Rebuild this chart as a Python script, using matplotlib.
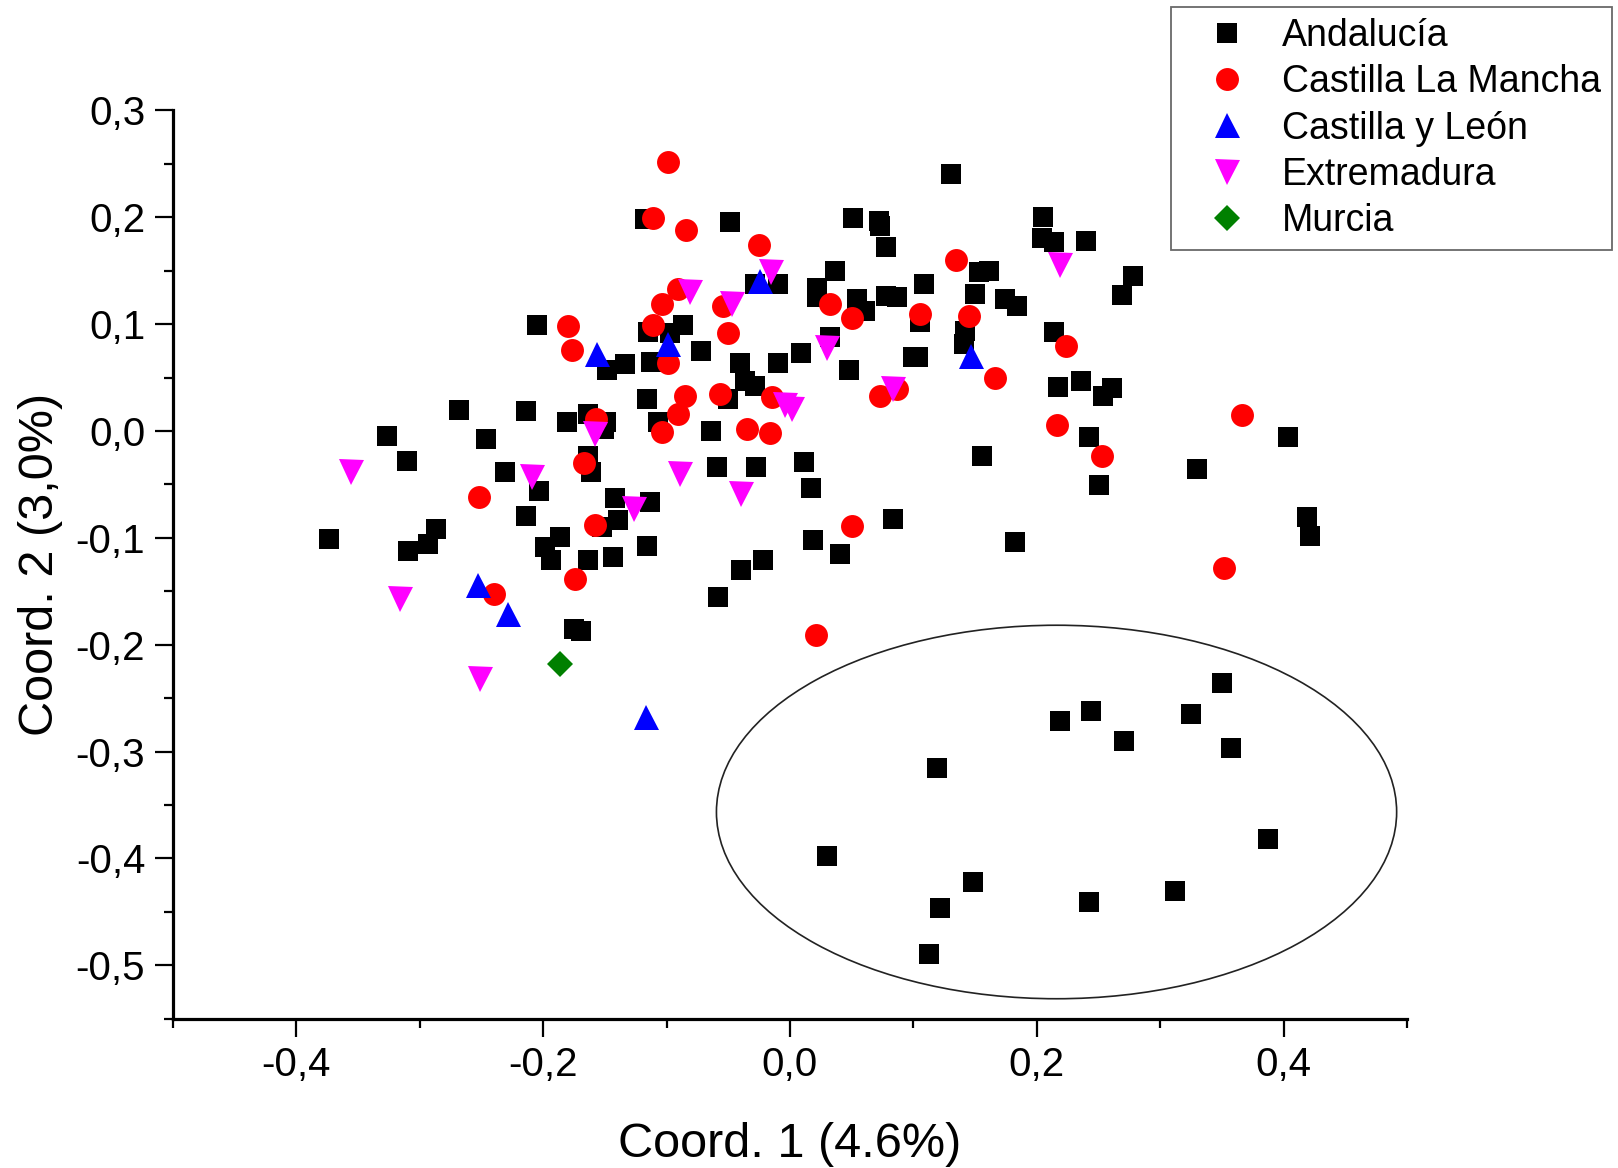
import matplotlib
matplotlib.use("Agg")
import matplotlib.pyplot as plt
from matplotlib.patches import Ellipse
from matplotlib.ticker import MultipleLocator, FuncFormatter

plt.rcParams['font.family'] = ['Liberation Sans', 'DejaVu Sans']

# ---------------- data ----------------
andalucia_x = [-0.1177, -0.205, -0.148, -0.134, -0.1147, -0.097, -0.087, -0.113, -0.072, -0.1155,
               -0.107, -0.268, -0.2136, -0.3266, -0.2466, -0.181, -0.164, -0.149, -0.151,
               -0.049, 0.051, 0.072, 0.073, 0.0775, 0.1305, 0.2053, 0.204, 0.214, 0.2397,
               0.153, 0.161, 0.150, 0.174, 0.184, 0.142, 0.141, 0.214, 0.2175, 0.236, 0.254,
               0.261, 0.242, 0.1086, 0.105, 0.087, 0.078, 0.0364, 0.0216, 0.0216, 0.054,
               0.061, 0.0324, 0.0478, 0.0999, 0.1037, -0.0285, -0.0095, -0.0406, -0.0366, -0.0285,
               -0.050, -0.0095, 0.0086, -0.064,
               -0.3104, -0.2312, -0.2036, -0.2136, -0.3736, -0.2865, -0.2933, -0.3096, -0.1866, -0.1987,
               -0.1933, -0.1636, -0.1438, -0.1158, -0.152, -0.139, -0.142, -0.1136, -0.161, -0.1636,
               -0.175, -0.1695,
               -0.0595, -0.0276, 0.0113, 0.0167, 0.0832, 0.0183, 0.0405, -0.0219, -0.0398, -0.0582,
               0.1553, 0.1826, 0.25,
               0.4034, 0.3302, 0.4189, 0.421, 0.2783, 0.2689,
               0.3497, 0.2436, 0.2187, 0.3251, 0.2708, 0.3577, 0.1192, 0.3874, 0.0301, 0.1485,
               0.3117, 0.2419, 0.1217, 0.1123]
andalucia_y = [0.198, 0.0995, 0.057, 0.063, 0.093, 0.092, 0.099, 0.065, 0.075, 0.030,
               0.0087, 0.0197, 0.0184, -0.005, -0.0075, 0.008, 0.016, 0.008, 0.002,
               0.196, 0.199, 0.197, 0.192, 0.1726, 0.241, 0.200, 0.181, 0.1766, 0.178,
               0.1485, 0.1494, 0.128, 0.124, 0.117, 0.094, 0.081, 0.093, 0.0408, 0.047, 0.033,
               0.040, -0.006, 0.1376, 0.102, 0.125, 0.1267, 0.150, 0.134, 0.125, 0.1236,
               0.1126, 0.0876, 0.057, 0.069, 0.069, 0.1375, 0.1375, 0.064, 0.047, 0.0424,
               0.030, 0.064, 0.073, 0.0003,
               -0.0278, -0.0381, -0.0559, -0.080, -0.1013, -0.0918, -0.1058, -0.1127, -0.0996, -0.109,
               -0.121, -0.1205, -0.1176, -0.1074, -0.0896, -0.0834, -0.0627, -0.0668, -0.0388, -0.023,
               -0.185, -0.1876,
               -0.0334, -0.034, -0.0287, -0.0534, -0.0821, -0.102, -0.1154, -0.1205, -0.130, -0.1558,
               -0.0231, -0.104, -0.051,
               -0.006, -0.0357, -0.0803, -0.098, 0.1454, 0.1273,
               -0.236, -0.262, -0.2715, -0.2653, -0.2905, -0.2964, -0.3154, -0.3816, -0.398, -0.4219,
               -0.4308, -0.4408, -0.4465, -0.4897]

clm_x = [-0.099, -0.111, -0.084, -0.025, -0.091, -0.104, -0.054, -0.050, -0.1795, -0.1766,
         -0.111, -0.099, -0.085, -0.091, -0.1036, -0.1576, -0.0568, -0.0149, -0.035, -0.0163,
         -0.1668, -0.252, -0.158, -0.1743, -0.2398, 0.0324, 0.0505, 0.105, 0.1345, 0.145,
         0.166, 0.073, 0.087, 0.2237, 0.216, 0.2526, 0.3662, 0.3518, 0.050, 0.021]
clm_y = [0.252, 0.199, 0.188, 0.174, 0.133, 0.119, 0.117, 0.0914, 0.098, 0.076,
         0.099, 0.064, 0.033, 0.016, -0.001, 0.011, 0.0346, 0.0315, 0.0017, -0.0022,
         -0.030, -0.0622, -0.0877, -0.1386, -0.1526, 0.1187, 0.1054, 0.1095, 0.160, 0.108,
         0.0496, 0.033, 0.039, 0.0792, 0.006, -0.023, 0.0151, -0.1285, -0.0887, -0.191]

cyl_x = [-0.0244, -0.099, -0.156, 0.1464, -0.2528, -0.2285, -0.1168]
cyl_y = [0.1407, 0.081, 0.072, 0.0705, -0.144, -0.171, -0.268]

ext_x = [-0.081, -0.0157, -0.047, 0.219, 0.0297, 0.0837, -0.004, 0.002, -0.158, -0.3554,
         -0.209, -0.0892, -0.126, -0.0398, -0.3163, -0.2514]
ext_y = [0.130, 0.1484, 0.1187, 0.155, 0.078, 0.0393, 0.024, 0.021, -0.003, -0.0388,
         -0.0434, -0.0405, -0.073, -0.059, -0.157, -0.232]

mur_x = [-0.186]
mur_y = [-0.218]

labels = ["Andalucía", "Castilla La Mancha", "Castilla y León", "Extremadura", "Murcia"]
colors = ["#000000", "#FF0000", "#0000FF", "#FF00FF", "#008000"]

ellipse_center = (0.216, -0.3566)
ellipse_width = 0.5512
ellipse_height = 0.3496

x_label = "Coord. 1 (4.6%)"
y_label = "Coord. 2 (3,0%)"

# ---------------- plot ----------------
fig = plt.figure(figsize=(16.18, 11.68), dpi=100)
ax = fig.add_axes([0.1069, 0.1279, 0.7627, 0.7775])

series = [(andalucia_x, andalucia_y, 's', 14.5),
          (clm_x, clm_y, 'o', 16.5),
          (cyl_x, cyl_y, '^', 18),
          (ext_x, ext_y, 'v', 18),
          (mur_x, mur_y, 'D', 13)]
for (xs, ys, m, ms), lab, col in zip(series, labels, colors):
    ax.plot(xs, ys, linestyle='none', marker=m, markersize=ms, color=col,
            markeredgewidth=0, label=lab)

ax.add_patch(Ellipse(ellipse_center, ellipse_width, ellipse_height,
                     fill=False, edgecolor='#222222', linewidth=1.2))

ax.set_xlim(-0.5, 0.5)
ax.set_ylim(-0.55, 0.3)

for s in ['top', 'right']:
    ax.spines[s].set_visible(False)
for s in ['left', 'bottom']:
    ax.spines[s].set_linewidth(2.3)

ax.xaxis.set_major_locator(MultipleLocator(0.2))
ax.xaxis.set_minor_locator(MultipleLocator(0.1))
ax.yaxis.set_major_locator(MultipleLocator(0.1))
ax.yaxis.set_minor_locator(MultipleLocator(0.05))

fmt = FuncFormatter(lambda v, p: ("%.1f" % (round(v, 2) + 0.0)).replace('.', ','))
ax.xaxis.set_major_formatter(fmt)
ax.yaxis.set_major_formatter(fmt)

ax.tick_params(which='major', direction='out', length=13, width=1.6, labelsize=29, pad=7)
ax.tick_params(which='minor', direction='out', length=6.5, width=1.6)

ax.set_xlabel(x_label, fontsize=35, labelpad=27)
ax.set_ylabel(y_label, fontsize=35, labelpad=9)

leg = ax.legend(loc='upper right', bbox_to_anchor=(0.9963, 0.994),
                bbox_transform=fig.transFigure, borderaxespad=0,
                fontsize=27, frameon=True, fancybox=False, labelspacing=0.27,
                handlelength=2.4, handletextpad=0.25, borderpad=0.3, numpoints=1)
leg.get_frame().set_edgecolor('#444444')
leg.get_frame().set_linewidth(1.3)

fig.savefig("out.png", dpi=100)
